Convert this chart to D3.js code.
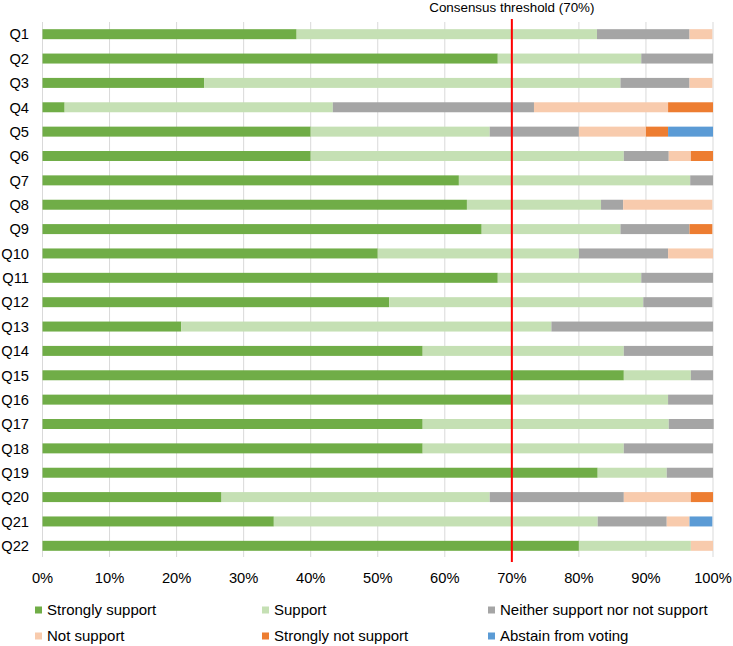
<!DOCTYPE html>
<html>
<head>
<meta charset="utf-8">
<script src="https://cdn.jsdelivr.net/npm/d3@7"></script>
<style>
  html, body { margin: 0; padding: 0; background: #fff; }
  svg { display: block; font-family: "Liberation Sans", Arial, sans-serif; }
</style>
</head>
<body>
<svg id="chart" width="733" height="646"></svg>
<script>
const questions = ["Q1","Q2","Q3","Q4","Q5","Q6","Q7","Q8","Q9","Q10","Q11","Q12","Q13","Q14","Q15","Q16","Q17","Q18","Q19","Q20","Q21","Q22"];
const seriesNames = ["Strongly support","Support","Neither support nor not support","Not support","Strongly not support","Abstain from voting"];
const stronglySupport = [37.9,67.9,24.1,3.3,40.0,40.0,62.1,63.3,65.5,50.0,67.9,51.7,20.7,56.7,86.7,70.0,56.7,56.7,82.8,26.7,34.5,80.0];
const support         = [44.8,21.4,62.1,40.0,26.7,46.7,34.5,20.0,20.7,30.0,21.4,37.9,55.2,30.0,10.0,23.3,36.7,30.0,10.3,40.0,48.3,16.7];
const neither         = [13.8,10.7,10.3,30.0,13.3,6.7,3.4,3.3,10.3,13.3,10.7,10.3,24.1,13.3,3.3,6.7,6.7,13.3,6.9,20.0,10.3,0];
const notSupport      = [3.4,0,3.4,20.0,10.0,3.3,0,13.3,0,6.7,0,0,0,0,0,0,0,0,0,10.0,3.4,3.3];
const stronglyNot     = [0,0,0,6.7,3.3,3.3,0,0,3.4,0,0,0,0,0,0,0,0,0,0,3.3,0,0];
const abstain         = [0,0,0,0,6.7,0,0,0,0,0,0,0,0,0,0,0,0,0,0,0,3.4,0];
const xTicks = [0,10,20,30,40,50,60,70,80,90,100];
const threshold = 70;
const thresholdLabel = "Consensus threshold (70%)";
const colors = ["#70AD47","#C5E0B4","#A5A5A5","#F8CBAD","#ED7D31","#5B9BD5"];

const seriesValues = [stronglySupport, support, neither, notSupport, stronglyNot, abstain];
const table = questions.map((q, i) => {
  const row = { q };
  seriesNames.forEach((s, j) => row[s] = seriesValues[j][i]);
  return row;
});

const svg = d3.select("#chart");
const x = d3.scaleLinear().domain([0, 100]).range([42.5, 713]);
const y = d3.scaleBand().domain(questions).range([22, 558]).paddingInner(0.59).paddingOuter(0.295);
const color = d3.scaleOrdinal().domain(seriesNames).range(colors);
const fontSize = 14.7;

// gridlines
svg.append("g").selectAll("line").data(xTicks).join("line")
  .attr("x1", d => x(d)).attr("x2", d => x(d))
  .attr("y1", 22).attr("y2", 557)
  .attr("stroke", "#D9D9D9").attr("stroke-width", 1);

// stacked bars
const stacked = d3.stack().keys(seriesNames)(table);
svg.append("g").selectAll("g").data(stacked).join("g")
  .attr("fill", d => color(d.key))
  .selectAll("rect").data(d => d).join("rect")
  .attr("x", d => x(d[0]))
  .attr("y", d => y(d.data.q))
  .attr("width", d => Math.max(0, x(d[1]) - x(d[0])))
  .attr("height", y.bandwidth());

// y labels
svg.append("g").selectAll("text").data(questions).join("text")
  .attr("x", 29).attr("y", d => y(d) + y.bandwidth() / 2)
  .attr("dy", "0.36em")
  .attr("text-anchor", "end")
  .attr("font-size", fontSize)
  .attr("fill", "#000")
  .text(d => d);

// x tick labels
svg.append("g").selectAll("text").data(xTicks).join("text")
  .attr("x", d => x(d)).attr("y", 583)
  .attr("text-anchor", "middle")
  .attr("font-size", fontSize)
  .attr("fill", "#000")
  .text(d => d + "%");

// threshold line
svg.append("line")
  .attr("x1", x(threshold)).attr("x2", x(threshold))
  .attr("y1", 19).attr("y2", 562)
  .attr("stroke", "#FF0000").attr("stroke-width", 2);
svg.append("text")
  .attr("x", x(threshold)).attr("y", 12)
  .attr("text-anchor", "middle")
  .attr("font-size", 13.4)
  .attr("fill", "#000")
  .text(thresholdLabel);

// legend
const legendCols = [35, 262, 488];
const legendRows = [610, 636];
const lg = svg.append("g").selectAll("g").data(seriesNames).join("g")
  .attr("transform", (d, i) => `translate(${legendCols[i % 3]},${legendRows[Math.floor(i / 3)]})`);
lg.append("rect").attr("x", 0).attr("y", -3.5).attr("width", 7).attr("height", 7)
  .attr("fill", d => color(d));
lg.append("text").attr("x", 12).attr("y", 0).attr("dy", "0.36em")
  .attr("font-size", 15)
  .attr("fill", "#000")
  .text(d => d);
</script>
</body>
</html>
